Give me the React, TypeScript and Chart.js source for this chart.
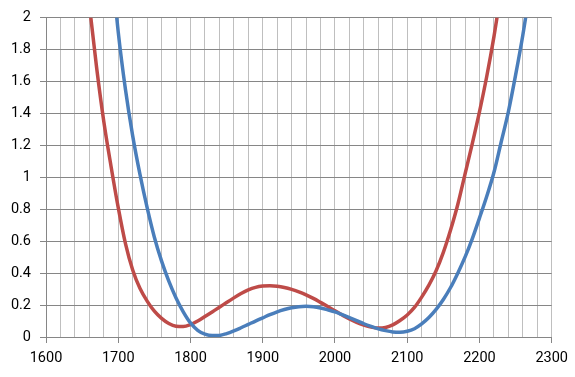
import React, { useEffect, useRef } from "react";
import { Chart, registerables } from "chart.js";

Chart.register(...registerables);

const redX = [1655,1660,1670,1680,1690,1700,1710,1720,1730,1740,1750,1760,1770,1780,1790,1800,1810,1820,1830,1840,1850,1860,1870,1880,1890,1900,1910,1920,1930,1940,1950,1960,1970,1980,1990,2000,2010,2020,2030,2040,2050,2060,2070,2080,2090,2100,2110,2120,2130,2140,2150,2160,2170,2180,2190,2200,2210,2220,2230];
const redY = [2.30,2.08,1.69,1.35,1.07,0.81,0.585,0.42,0.305,0.225,0.162,0.117,0.085,0.068,0.066,0.078,0.10,0.128,0.157,0.186,0.216,0.245,0.272,0.295,0.311,0.319,0.321,0.318,0.31,0.298,0.283,0.264,0.242,0.217,0.191,0.164,0.138,0.113,0.092,0.075,0.062,0.056,0.06,0.076,0.103,0.138,0.185,0.25,0.325,0.415,0.53,0.67,0.83,1.02,1.21,1.41,1.63,1.88,2.17];

const blueX = [1690,1700,1710,1720,1730,1740,1750,1760,1770,1780,1790,1800,1810,1820,1830,1840,1850,1860,1870,1880,1890,1900,1910,1920,1930,1940,1950,1960,1970,1980,1990,2000,2010,2020,2030,2040,2050,2060,2070,2080,2090,2100,2110,2120,2130,2140,2150,2160,2170,2180,2190,2200,2210,2220,2230,2240,2250,2260,2270];
const blueY = [2.38,1.91,1.55,1.26,1.02,0.81,0.625,0.475,0.35,0.245,0.158,0.088,0.042,0.018,0.009,0.01,0.021,0.038,0.058,0.079,0.10,0.12,0.14,0.158,0.172,0.183,0.19,0.193,0.19,0.182,0.17,0.157,0.14,0.122,0.103,0.083,0.066,0.051,0.04,0.032,0.03,0.036,0.052,0.082,0.122,0.173,0.235,0.31,0.40,0.50,0.615,0.745,0.88,1.03,1.22,1.41,1.64,1.89,2.18];

const xMin = 1600;
const xMax = 2300;
const xStep = 20;
const xLabelStep = 100;
const yMin = 0;
const yMax = 2;
const yStep = 0.2;

const FONT = "Roboto, 'Open Sans', sans-serif";

export default function App() {
  const ref = useRef<HTMLCanvasElement | null>(null);
  useEffect(() => {
    document.body.style.margin = "0";
    const canvas = ref.current;
    if (!canvas) return;
    const chart = new Chart(canvas, {
      type: "scatter",
      data: {
        datasets: [
          {
            label: "blue",
            data: blueX.map((x, i) => ({ x, y: blueY[i] })),
            showLine: true,
            borderColor: "#4A7EBB",
            backgroundColor: "#4A7EBB",
            borderWidth: 3.5,
            pointRadius: 0,
            cubicInterpolationMode: "monotone",
            clip: 0,
          },
          {
            label: "red",
            data: redX.map((x, i) => ({ x, y: redY[i] })),
            showLine: true,
            borderColor: "#BE4B48",
            backgroundColor: "#BE4B48",
            borderWidth: 3.5,
            pointRadius: 0,
            cubicInterpolationMode: "monotone",
            clip: 0,
          },
        ],
      },
      options: {
        responsive: false,
        animation: false,
        devicePixelRatio: 1,
        layout: { padding: { top: 13, right: 23, left: 0, bottom: 0 } },
        plugins: { legend: { display: false }, tooltip: { enabled: false } },
        scales: {
          x: {
            type: "linear",
            min: xMin,
            max: xMax,
            afterFit: (s: any) => { s.height = 40; },
            ticks: {
              stepSize: xStep,
              autoSkip: false,
              maxRotation: 0,
              minRotation: 0,
              padding: 7,
              color: "#000",
              font: { family: FONT, size: 14.5 },
              callback: (v: any) => (Math.round(Number(v)) % xLabelStep === 0 ? String(v) : ""),
            },
            grid: {
              color: "#BFBFBF",
              lineWidth: 1,
              tickLength: 6,
              tickColor: (ctx: any) =>
                ctx.tick && Math.round(ctx.tick.value) % xLabelStep === 0 ? "#868686" : "rgba(0,0,0,0)",
            },
            border: { display: true, color: "#868686", width: 1 },
          },
          y: {
            type: "linear",
            min: yMin,
            max: yMax,
            afterFit: (s: any) => { s.width = 46; },
            ticks: {
              stepSize: yStep,
              padding: 9,
              color: "#000",
              font: { family: FONT, size: 14.5 },
              callback: (v: any) => String(Number(Number(v).toFixed(1))),
            },
            grid: {
              color: "#868686",
              lineWidth: 1,
              tickLength: 6,
              tickColor: "#868686",
            },
            border: { display: true, color: "#868686", width: 1 },
          },
        },
      },
    });
    return () => chart.destroy();
  }, []);
  return (
    <div style={{ width: 575, height: 377, background: "#fff" }}>
      <canvas ref={ref} width={575} height={377} style={{ display: "block", width: 575, height: 377 }} />
    </div>
  );
}
